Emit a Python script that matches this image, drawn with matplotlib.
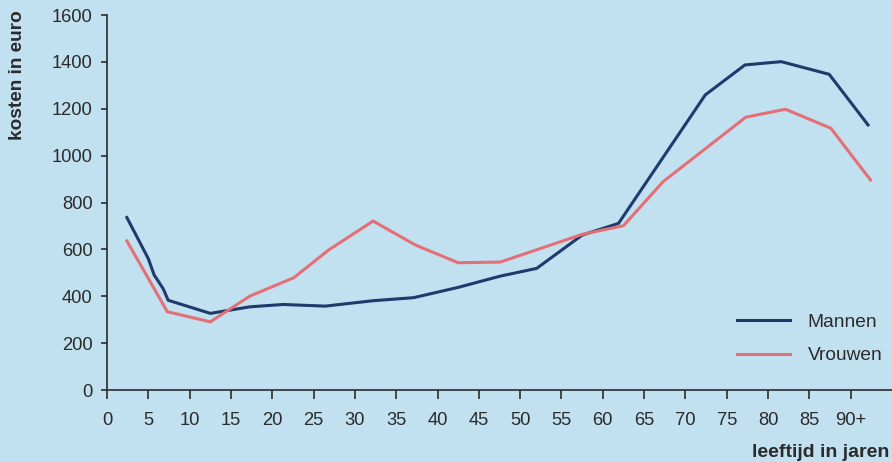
import matplotlib.pyplot as plt

# zorgkosten per leeftijd (euro)
ages_m = [2.4, 5.0, 5.7, 6.8, 7.4, 12.5, 17.3, 21.3, 26.4, 32.2, 37.1, 42.5,
          47.6, 52.0, 57.5, 61.9, 72.4, 77.2, 81.6, 87.4, 92.1]
mannen = [736, 560, 491, 432, 383, 327, 355, 365, 358, 381, 394, 438,
          486, 519, 661, 711, 1259, 1387, 1401, 1347, 1131]

ages_v = [2.4, 7.3, 12.5, 17.3, 22.6, 26.8, 32.2, 37.3, 42.5, 47.6, 57.5,
          62.5, 67.3, 77.3, 82.1, 87.6, 92.4]
vrouwen = [636, 334, 291, 401, 479, 597, 721, 619, 543, 546, 664,
           701, 889, 1164, 1198, 1117, 896]

xticks = list(range(0, 95, 5))
xlabels = [str(t) for t in xticks[:-1]] + ['90+']
yticks = list(range(0, 1601, 200))

bg = '#c2e1f0'
ink = '#2b2b2b'
plt.rcParams['font.family'] = ['Liberation Sans', 'DejaVu Sans']

fig = plt.figure(figsize=(8.92, 4.62), dpi=100, facecolor=bg)
ax = fig.add_axes([0.12, 0.1558, 0.88, 0.8117], facecolor=bg)

ax.plot(ages_m, mannen, color='#1f3a6c', lw=2.2, label='Mannen')
ax.plot(ages_v, vrouwen, color='#e46f76', lw=2.2, label='Vrouwen')

ax.set_xlim(0, 95)
ax.set_ylim(0, 1600)
ax.set_xticks(xticks)
ax.set_xticklabels(xlabels)
ax.set_yticks(yticks)

for s in ['top', 'right']:
    ax.spines[s].set_visible(False)
for s in ['left', 'bottom']:
    ax.spines[s].set_color(ink)
    ax.spines[s].set_linewidth(1.2)

ax.tick_params(axis='x', length=6.5, width=1.2, color=ink, pad=9,
               labelsize=13.2, labelcolor=ink)
ax.tick_params(axis='y', length=4.5, width=1.2, color=ink, pad=6,
               labelsize=13.2, labelcolor=ink)

leg = ax.legend(loc='upper left', bbox_to_anchor=(0.802, 0.205),
                frameon=False, fontsize=13.8, handlelength=2.8,
                handletextpad=0.9, labelspacing=0.85,
                borderpad=0, borderaxespad=0)
for t in leg.get_texts():
    t.set_color(ink)

fig.text(0.02, 0.978, 'kosten in euro', rotation=90, va='top', ha='center',
         fontsize=13.7, fontweight='bold', color=ink)
fig.text(0.997, 0.02, 'leeftijd in jaren', va='center', ha='right',
         fontsize=14, fontweight='bold', color=ink)

fig.savefig('out.png', dpi=100, facecolor=bg)
